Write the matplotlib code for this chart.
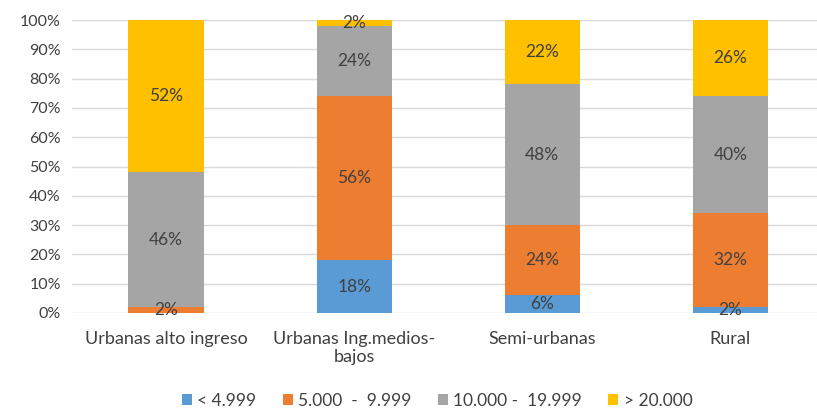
import matplotlib.pyplot as plt
import numpy as np

plt.rcParams["font.family"] = ["Lato", "DejaVu Sans"]

# Data (percent shares)
categories = ["Urbanas alto ingreso", "Urbanas Ing.medios-\nbajos", "Semi-urbanas", "Rural"]
series_names = ["< 4.999", "5.000  -  9.999", "10.000 -  19.999", "> 20.000"]
lt_5k = [0, 18, 6, 2]
s5k_10k = [2, 56, 24, 32]
s10k_20k = [46, 24, 48, 40]
gt_20k = [52, 2, 22, 26]

colors = ["#5b9bd5", "#ed7d31", "#a5a5a5", "#ffc000"]
text_color = "#404040"

fig = plt.figure(figsize=(8.17, 4.09), dpi=100)
ax = fig.add_axes([72 / 817, 96 / 409, 745 / 817, 293 / 409])

x = np.arange(len(categories))
bottom = np.zeros(len(categories))
for name, vals, col in zip(series_names, [lt_5k, s5k_10k, s10k_20k, gt_20k], colors):
    vals = np.array(vals, dtype=float)
    ax.bar(x, vals, width=0.4, bottom=bottom, color=col, label=name, zorder=3)
    for xi, b, v in zip(x, bottom, vals):
        if v > 0:
            ax.text(xi, b + v / 2, f"{v:.0f}%", ha="center", va="center",
                    fontsize=12.5, color=text_color, zorder=4)
    bottom += vals

ax.set_xlim(-0.5, 3.46)
ax.set_ylim(0, 100)
ax.set_yticks(range(0, 101, 10))
ax.set_yticklabels([f"{v}%" for v in range(0, 101, 10)])
ax.set_xticks(x)
ax.set_xticklabels(categories, linespacing=1.15)
ax.tick_params(axis="y", length=0, labelsize=11.5, labelcolor=text_color, pad=8)
ax.tick_params(axis="x", length=0, labelsize=13, labelcolor=text_color, pad=13)
ax.grid(axis="y", color="#d9d9d9", linewidth=1, zorder=0)
for s in ax.spines.values():
    s.set_visible(False)

ax.legend(loc="center", bbox_to_anchor=(0.49, -0.3), ncol=4, frameon=False,
          fontsize=12.5, labelcolor=text_color, handlelength=0.6, handleheight=0.6,
          handletextpad=0.3, columnspacing=1.5)

fig.savefig("out.png", dpi=100)
